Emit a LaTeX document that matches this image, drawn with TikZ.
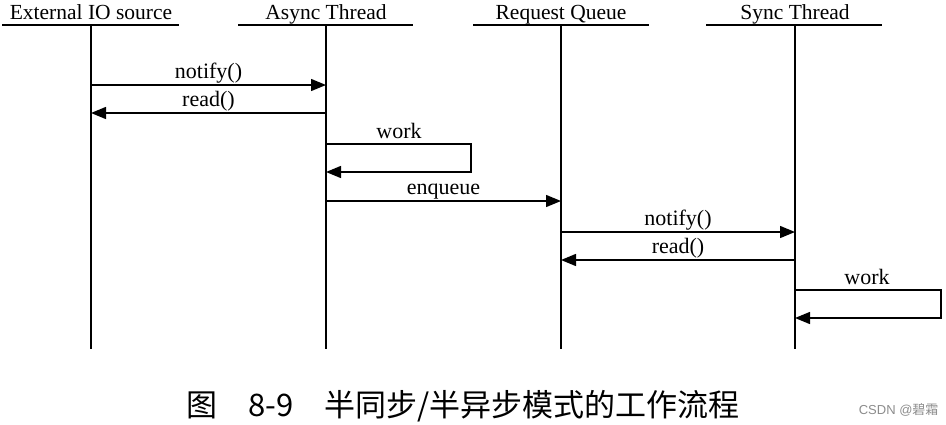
\documentclass[tikz,border=0pt]{standalone}
\usepackage{fontspec}
\setmainfont{Liberation Serif}
\newfontfamily\cjk{Noto Sans CJK SC}
\newfontfamily\wmfont{Liberation Sans}
\usetikzlibrary{arrows.meta}

\tikzset{
  lifeline/.style={line width=1.3pt},
  msg/.style={line width=1.4pt,-{Triangle[length=15pt,width=12pt]}},
  head/.style={font=\fontsize{21.5}{24}\selectfont,anchor=base,inner sep=0pt},
  msglabel/.style={font=\fontsize{22}{24}\selectfont,above,inner sep=3.5pt,
    text height=0.68em,text depth=0.22em}
}

\begin{document}
\begin{tikzpicture}[x=1pt,y=-1pt]
\useasboundingbox (0,0) rectangle (946,424);

 % heads
  \coordinate (ExtL) at (2,25);
  \coordinate (ExtR) at (179,25);
  \coordinate (AsyL) at (238,25);
  \coordinate (AsyR) at (413,25);
  \coordinate (QueL) at (473,25);
  \coordinate (QueR) at (649,25);
  \coordinate (SynL) at (706,25);
  \coordinate (SynR) at (882,25);
 \draw[lifeline] (ExtL) -- (ExtR);
 \draw[lifeline] (AsyL) -- (AsyR);
 \draw[lifeline] (QueL) -- (QueR);
 \draw[lifeline] (SynL) -- (SynR);
  \node[head] (ExtH) at (91,19.5) {External IO source};
  \node[head] (AsyH) at (326,19.5) {Async Thread};
  \node[head] (QueH) at (561,19.5) {Request Queue};
  \node[head] (SynH) at (795,19.5) {Sync Thread};

 % lifelines
  \coordinate (ExtT) at (91,25);
  \coordinate (ExtB) at (91,349);
  \coordinate (AsyT) at (326,25);
  \coordinate (AsyB) at (326,349);
  \coordinate (QueT) at (561,25);
  \coordinate (QueB) at (561,349);
  \coordinate (SynT) at (795,25);
  \coordinate (SynB) at (795,349);
 \draw[lifeline] (ExtT) -- (ExtB);
 \draw[lifeline] (AsyT) -- (AsyB);
 \draw[lifeline] (QueT) -- (QueB);
 \draw[lifeline] (SynT) -- (SynB);

 % External IO source <-> Async Thread
  \coordinate (ExtN) at (91,85);
  \coordinate (AsyN) at (326,85);
  \coordinate (ExtR1) at (91,113);
  \coordinate (AsyR1) at (326,113);
 \draw[msg] (ExtN) -- node[msglabel] {notify()} (AsyN);
 \draw[msg] (AsyR1) -- node[msglabel] {read()} (ExtR1);

 % work (async)
  \coordinate (AsyW1) at (326,144);
  \coordinate (AsyW2) at (471,144);
  \coordinate (AsyW3) at (471,172);
  \coordinate (AsyW4) at (326,172);
 \draw[msg] (AsyW1) -- (AsyW2) -- (AsyW3) -- (AsyW4);
  \node[msglabel] at (399,144) {work};

 % enqueue
  \coordinate (AsyE) at (326,201);
  \coordinate (QueE) at (561,201);
 \draw[msg] (AsyE) -- node[msglabel] {enqueue} (QueE);

 % Request Queue <-> Sync Thread
  \coordinate (QueN) at (561,232);
  \coordinate (SynN) at (795,232);
  \coordinate (QueR2) at (561,260);
  \coordinate (SynR2) at (795,260);
 \draw[msg] (QueN) -- node[msglabel] {notify()} (SynN);
 \draw[msg] (SynR2) -- node[msglabel] {read()} (QueR2);

 % work (sync)
  \coordinate (SynW1) at (795,290);
  \coordinate (SynW2) at (941,290);
  \coordinate (SynW3) at (941,318);
  \coordinate (SynW4) at (795,318);
 \draw[msg] (SynW1) -- (SynW2) -- (SynW3) -- (SynW4);
  \node[msglabel] at (867,290) {work};

 % caption
  \node[font=\cjk\fontsize{31}{33}\selectfont] (Cap) at (463,406) {图\quad 8-9\quad 半同步/半异步模式的工作流程};
  \node[font=\wmfont\fontsize{13}{15}\selectfont,text=black!45,anchor=east] (Wm) at (942,410) {CSDN @\cjk 碧霜};
\end{tikzpicture}
\end{document}
